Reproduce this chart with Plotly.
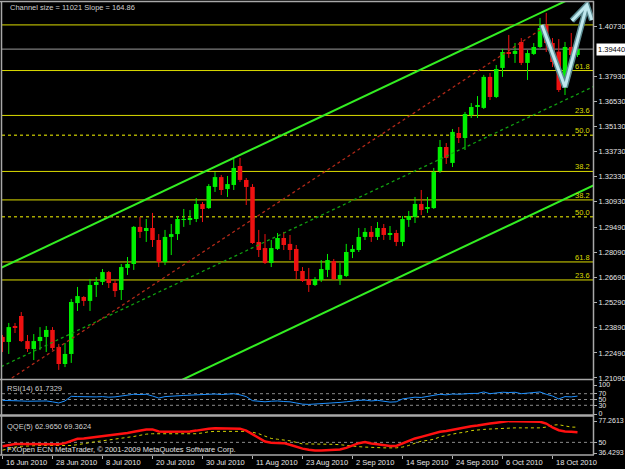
import plotly.graph_objects as go

# ---------------- data ----------------
tick_bars = [0, 8, 16, 24, 32, 40, 48, 56, 64, 72, 80, 88]
tick_labels = ["16 Jun 2010", "28 Jun 2010", "8 Jul 2010", "20 Jul 2010", "30 Jul 2010",
               "11 Aug 2010", "23 Aug 2010", "2 Sep 2010", "14 Sep 2010", "24 Sep 2010",
               "6 Oct 2010", "18 Oct 2010"]

opens = [1.2338, 1.2310, 1.2399, 1.2455, 1.2315, 1.2271, 1.2315, 1.2338, 1.2377, 1.2282,
         1.2187, 1.2243, 1.2527, 1.2561, 1.2539, 1.2628, 1.2645, 1.2700, 1.2639, 1.2600,
         1.2723, 1.2745, 1.2952, 1.2929, 1.2946, 1.2879, 1.2756, 1.2896, 1.2912, 1.2991,
         1.2996, 1.2996, 1.3080, 1.3057, 1.3175, 1.3230, 1.3163, 1.3186, 1.3292, 1.3214,
         1.3175, 1.2868, 1.2834, 1.2751, 1.2829, 1.2890, 1.2857, 1.2829, 1.2706, 1.2661,
         1.2628, 1.2656, 1.2712, 1.2762, 1.2661, 1.2678, 1.2812, 1.2823, 1.2896, 1.2924,
         1.2896, 1.2946, 1.2907, 1.2918, 1.2868, 1.2991, 1.3007, 1.3080, 1.3057, 1.3057,
         1.3264, 1.3398, 1.3309, 1.3476, 1.3448, 1.3576, 1.3621, 1.3616, 1.3789, 1.3677,
         1.3839, 1.3928, 1.3917, 1.3984, 1.3867, 1.3917, 1.3956, 1.4079, 1.3978, 1.3930,
         1.3727, 1.3956, 1.3911]
highs = [1.2349, 1.2416, 1.2416, 1.2477, 1.2349, 1.2354, 1.2393, 1.2399, 1.2393, 1.2299,
         1.2304, 1.2550, 1.2617, 1.2566, 1.2661, 1.2672, 1.2717, 1.2706, 1.2656, 1.2745,
         1.2784, 1.2957, 1.3007, 1.2996, 1.3030, 1.2912, 1.2935, 1.2968, 1.3013, 1.3052,
         1.3046, 1.3113, 1.3091, 1.3191, 1.3258, 1.3242, 1.3236, 1.3331, 1.3337, 1.3225,
         1.3191, 1.2935, 1.2912, 1.2879, 1.2918, 1.2924, 1.2907, 1.2851, 1.2728, 1.2723,
         1.2672, 1.2767, 1.2801, 1.2773, 1.2751, 1.2857, 1.2851, 1.2946, 1.2946, 1.2957,
         1.2979, 1.2968, 1.2957, 1.2935, 1.3013, 1.3041, 1.3119, 1.3158, 1.3119, 1.3281,
         1.3437, 1.3420, 1.3498, 1.3509, 1.3593, 1.3643, 1.3682, 1.3800, 1.3811, 1.3855,
         1.3945, 1.4023, 1.3978, 1.4006, 1.3939, 1.3978, 1.4118, 1.4146, 1.4006, 1.4000,
         1.3984, 1.4034, 1.3950]
lows = [1.2254, 1.2243, 1.2360, 1.2310, 1.2254, 1.2209, 1.2265, 1.2254, 1.2265, 1.2154,
        1.2170, 1.2193, 1.2483, 1.2511, 1.2483, 1.2561, 1.2628, 1.2611, 1.2561, 1.2544,
        1.2684, 1.2712, 1.2890, 1.2868, 1.2840, 1.2728, 1.2739, 1.2795, 1.2879, 1.2952,
        1.2963, 1.2979, 1.2979, 1.3052, 1.3147, 1.3130, 1.3119, 1.3158, 1.3203, 1.3074,
        1.2857, 1.2784, 1.2745, 1.2728, 1.2823, 1.2823, 1.2767, 1.2661, 1.2645, 1.2589,
        1.2622, 1.2645, 1.2672, 1.2656, 1.2628, 1.2672, 1.2778, 1.2812, 1.2879, 1.2868,
        1.2879, 1.2879, 1.2879, 1.2845, 1.2845, 1.2952, 1.2974, 1.3018, 1.3030, 1.3052,
        1.3253, 1.3303, 1.3286, 1.3420, 1.3381, 1.3560, 1.3560, 1.3610, 1.3660, 1.3671,
        1.3789, 1.3895, 1.3867, 1.3855, 1.3772, 1.3911, 1.3950, 1.3928, 1.3844, 1.3705,
        1.3688, 1.3895, 1.3900]
closes = [1.2310, 1.2393, 1.2388, 1.2315, 1.2271, 1.2315, 1.2338, 1.2377, 1.2276, 1.2187,
          1.2243, 1.2533, 1.2566, 1.2539, 1.2628, 1.2645, 1.2700, 1.2639, 1.2594, 1.2728,
          1.2745, 1.2952, 1.2924, 1.2946, 1.2879, 1.2756, 1.2896, 1.2912, 1.2996, 1.2996,
          1.2999, 1.3080, 1.3052, 1.3180, 1.3230, 1.3158, 1.3191, 1.3281, 1.3214, 1.3175,
          1.2862, 1.2823, 1.2751, 1.2834, 1.2890, 1.2851, 1.2823, 1.2706, 1.2650, 1.2628,
          1.2661, 1.2717, 1.2767, 1.2661, 1.2684, 1.2812, 1.2829, 1.2896, 1.2924, 1.2896,
          1.2946, 1.2907, 1.2918, 1.2868, 1.2996, 1.3013, 1.3080, 1.3046, 1.3063, 1.3258,
          1.3398, 1.3337, 1.3482, 1.3448, 1.3582, 1.3621, 1.3627, 1.3789, 1.3677, 1.3833,
          1.3928, 1.3922, 1.3934, 1.3867, 1.3922, 1.3956, 1.4062, 1.3978, 1.3872, 1.3716,
          1.3956, 1.3911, 1.3944]

rsi = [47, 47, 46, 45, 44, 44, 45, 45, 42, 38, 45, 61,
       60, 59, 60, 59, 60, 58, 59, 62, 65,
       68, 67, 68, 62, 55, 60, 62, 64, 64, 65, 66,
       67, 69, 69, 67, 68, 70, 66, 60, 46,
       44, 42, 44, 45, 43, 42, 38, 34, 33, 34, 35, 37,
       38, 40, 42, 45, 47, 48, 45, 47, 44, 41, 42,
       52, 55, 58, 57, 60, 65, 68, 66, 69, 68, 70, 71, 71,
       76, 70, 73, 75, 74, 75, 70, 72, 73, 76, 68, 62, 52, 60, 59, 61.7329]

qqe_fast = [45, 46.5, 48, 48, 48, 48, 48, 48, 47.5, 47.5, 49, 52,
            54.5, 55, 56, 57, 58, 58.5, 59.5, 60.5, 62, 63.5, 65, 66.5,
            66.5, 64, 63.5, 63.5, 63.5, 64, 64, 65,
            66.5, 67.5, 68, 68, 68, 68, 67.5, 65, 60,
            55, 51, 49.5, 49.5, 49, 47, 44.5,
            42, 40.5, 39.5, 39.5, 40, 40.5, 41, 43, 46, 49, 50.5, 48.5, 47.5, 46.5, 45.5, 45.5,
            49, 52, 55, 57, 59, 61.5, 63.5, 64.5, 66, 68, 69.5, 70.5, 71.5,
            73, 74, 75, 76, 77.2, 76.8, 76.5, 76.5, 76.5, 76.3, 74, 69, 65.5, 64, 63.5, 62.965]

qqe_slow = [40, 42, 44, 45, 45.5, 46, 46, 46, 46, 46, 46, 46,
            47, 48.5, 50, 51, 52, 53, 54, 55, 56, 57.5, 59, 60.5,
            61, 61, 61, 61, 61, 61, 61, 61,
            62, 63.5, 64, 64, 64, 64, 64, 64, 63,
            61, 58, 55, 54, 53, 52, 50,
            48, 48, 48, 48, 47.5, 47.5, 47, 46, 45.5, 44.5, 44, 43.5, 43, 43, 43, 43,
            44, 46, 49, 51.5, 52.5, 54, 57, 59, 60.5, 62, 63, 65, 66,
            66.5, 67, 67.5, 68, 68, 68.5, 68.5, 68.5, 68.5, 68.5, 69.5, 72, 72.5, 71, 69.5, 69.3624]

price_ticks = [1.40730, 1.37930, 1.36530, 1.35130, 1.33730, 1.32330, 1.30930,
               1.29490, 1.28090, 1.26690, 1.25290, 1.23890, 1.22490, 1.21090]
bid_price = 1.39440

# channel (from indicator text), upper line value at bar 0
channel_upper_bar0 = 1.2727
channel_slope = 0.0016486
channel_size = 0.11021

# red dotted trend line anchors (bar, price)
trend_bars = [1.5, 86.0]
trend_prices = [1.2109, 1.4051]

# Fibonacci objects: (price at 0%, price at 100%), levels shown
fibA_0, fibA_100 = 1.4079, 1.1939
fibA_levels = [0.0, 23.6, 38.2, 50.0, 61.8]
fibB_0, fibB_100 = 1.1934, 1.4993
fibB_levels = [23.6, 38.2, 50.0, 61.8]

# hand-drawn arrow (bar, price)
arrow_bars = [86.3, 90.0, 93.5, None, 91.1, 93.5, 94.3]
arrow_prices = [1.4079, 1.3733, 1.4190, None, 1.4103, 1.4190, 1.4106]

rsi_levels = [70, 50, 30]
rsi_ticks = [100, 70, 50, 30, 0]
qqe_max, qqe_min = 77.2613, 36.4293
qqe_level = 50

# ---------------- layout geometry ----------------
W, H = 625, 469
def py(px):
    return 1 - px / H

x_lo, x_hi = -0.08, 94.48
main_dom = [py(379), py(2)]
rsi_dom = [py(414), py(385)]
qqe_dom = [py(453), py(421)]
xdom = [2 / W, 593 / W]
y_lo, y_hi = 1.21033, 1.42069

FONT = "Liberation Sans"
TXT = "#e6e6e6"
BULL = "#00f000"
BEAR = "#ee1111"

n = len(opens)
bars = list(range(n))

fig = go.Figure()

# wicks
for is_bull, col in [(True, BULL), (False, BEAR)]:
    wx, wy = [], []
    for i in bars:
        if (closes[i] >= opens[i]) == is_bull:
            wx += [i, i, None]
            wy += [lows[i], highs[i], None]
    fig.add_trace(go.Scatter(x=wx, y=wy, mode="lines", line=dict(color=col, width=1),
                             hoverinfo="skip", xaxis="x", yaxis="y"))

# bodies
min_body = 0.0005
bases, heights, colors = [], [], []
for o, c in zip(opens, closes):
    h = abs(c - o)
    if h < min_body:
        mid = (o + c) / 2
        bases.append(mid - min_body / 2)
        heights.append(min_body)
    else:
        bases.append(min(o, c))
        heights.append(h)
    colors.append(BULL if c >= o else BEAR)
fig.add_trace(go.Bar(x=bars, y=heights, base=bases, width=0.72,
                     marker=dict(color=colors, line=dict(width=0)),
                     hoverinfo="skip", xaxis="x", yaxis="y"))

# channel lines
cx = [x_lo - 1, x_hi + 1]
upper = [channel_upper_bar0 + channel_slope * v for v in cx]
fig.add_trace(go.Scatter(x=cx, y=upper, mode="lines", line=dict(color="#33ee22", width=2),
                         xaxis="x", yaxis="y", hoverinfo="skip"))
fig.add_trace(go.Scatter(x=cx, y=[u - channel_size for u in upper], mode="lines",
                         line=dict(color="#33ee22", width=2), xaxis="x", yaxis="y", hoverinfo="skip"))
fig.add_trace(go.Scatter(x=cx, y=[u - channel_size / 2 for u in upper], mode="lines",
                         line=dict(color="#10a010", width=1.3, dash="dot"),
                         xaxis="x", yaxis="y", hoverinfo="skip"))
# red dotted trend
fig.add_trace(go.Scatter(x=trend_bars, y=trend_prices, mode="lines",
                         line=dict(color="#b02818", width=1.3, dash="dot"),
                         xaxis="x", yaxis="y", hoverinfo="skip"))

# arrow (outline + fill)
fig.add_trace(go.Scatter(x=arrow_bars, y=arrow_prices, mode="lines",
                         line=dict(color="#5a8a90", width=6), cliponaxis=False,
                         xaxis="x", yaxis="y", hoverinfo="skip"))
fig.add_trace(go.Scatter(x=arrow_bars, y=arrow_prices, mode="lines",
                         line=dict(color="#bfe8ee", width=3), cliponaxis=False,
                         xaxis="x", yaxis="y", hoverinfo="skip"))

# RSI
fig.add_trace(go.Scatter(x=bars, y=rsi, mode="lines", line=dict(color="#1e90ff", width=1),
                         xaxis="x2", yaxis="y2", hoverinfo="skip"))
# QQE
fig.add_trace(go.Scatter(x=bars, y=qqe_slow, mode="lines",
                         line=dict(color="#d0d000", width=1, dash="dot"),
                         xaxis="x3", yaxis="y3", hoverinfo="skip"))
fig.add_trace(go.Scatter(x=bars, y=qqe_fast, mode="lines", line=dict(color="#ff1010", width=2.5),
                         xaxis="x3", yaxis="y3", hoverinfo="skip"))

shapes = []
annots = []
# bid line
shapes.append(dict(type="line", xref="x domain", x0=0, x1=1, yref="y", y0=bid_price, y1=bid_price,
                   line=dict(color="#9a9a9a", width=1), layer="below"))
# fib lines
def fib_price(p0, p100, lvl):
    return p0 + (p100 - p0) * lvl / 100.0

for p0, p100, levels in [(fibA_0, fibA_100, fibA_levels), (fibB_0, fibB_100, fibB_levels)]:
    for lvl in levels:
        pr = fib_price(p0, p100, lvl)
        dotted = abs(lvl - 50.0) < 1e-9
        shapes.append(dict(type="line", xref="x domain", x0=0, x1=1, yref="y", y0=pr, y1=pr,
                           line=dict(color="#a8a800" if dotted else "#dcdc00", width=1.4 if dotted else 1,
                                     dash="dot" if dotted else "solid"), layer="below"))
        if lvl > 0:
            annots.append(dict(xref="x domain", x=0.998, y=pr, yref="y", xanchor="right", yanchor="bottom",
                               text=f"{lvl:.1f}", showarrow=False, yshift=-2,
                               font=dict(family=FONT, size=7.5, color="#dcdc00")))

# RSI and QQE levels
for lv in rsi_levels:
    shapes.append(dict(type="line", xref="x2 domain", x0=0, x1=1, yref="y2", y0=lv, y1=lv,
                       line=dict(color="#8a8a8a", width=1, dash="dot"), layer="below"))
shapes.append(dict(type="line", xref="x3 domain", x0=0, x1=1, yref="y3", y0=qqe_level, y1=qqe_level,
                   line=dict(color="#8a8a8a", width=1, dash="dot"), layer="below"))

# pane frames
FR = "#a8a8a8"
for ypx, w in [(1.5, 1.5), (379.5, 1.5), (415.5, 2.5), (455, 1.5)]:
    shapes.append(dict(type="line", xref="paper", yref="paper", x0=0, x1=594 / W, y0=py(ypx), y1=py(ypx),
                       line=dict(color=FR, width=w)))
for xpx in [1.5, 593.5]:
    shapes.append(dict(type="line", xref="paper", yref="paper", x0=xpx / W, x1=xpx / W, y0=py(455), y1=py(1),
                       line=dict(color=FR, width=1.5)))

# date labels, right of each date tick (MetaTrader style)
for b, t in zip(tick_bars, tick_labels):
    annots.append(dict(xref="x3", yref="paper", x=b, y=py(462.5), xanchor="left", yanchor="middle",
                       xshift=1, text=t, showarrow=False, font=dict(family=FONT, size=7.5, color=TXT)))

# texts
annots.append(dict(xref="paper", yref="paper", x=8 / W, y=py(7), xanchor="left", yanchor="middle",
                   text="Channel size = 11021 Slope = 164.86", showarrow=False,
                   font=dict(family=FONT, size=7.5, color="#d0d0d0")))
annots.append(dict(xref="paper", yref="paper", x=5 / W, y=py(388), xanchor="left", yanchor="middle",
                   text="RSI(14) 61.7329", showarrow=False, font=dict(family=FONT, size=7.5, color="#d0d0d0")))
annots.append(dict(xref="paper", yref="paper", x=5 / W, y=py(426.5), xanchor="left", yanchor="middle",
                   text="QQE(5) 62.9650 69.3624", showarrow=False, font=dict(family=FONT, size=7.5, color="#d0d0d0")))
annots.append(dict(xref="paper", yref="paper", x=5 / W, y=py(449.5), xanchor="left", yanchor="middle",
                   text="FXOpen ECN MetaTrader, © 2001-2009 MetaQuotes Software Corp.", showarrow=False,
                   font=dict(family=FONT, size=7.5, color="#e0e0e0")))
# bid label
annots.append(dict(xref="paper", yref="y", x=596 / W, y=bid_price, xanchor="left", yanchor="middle",
                   text="1.39440", showarrow=False, bgcolor="#ffffff", borderpad=1,
                   font=dict(family=FONT, size=7.5, color="#000000")))

axis_common = dict(showgrid=False, zeroline=False, showline=False, automargin=False)
tickf = dict(family=FONT, size=7.5, color=TXT)
tickf_small = dict(family=FONT, size=7, color=TXT)

fig.update_layout(
    width=W, height=H, margin=dict(l=0, r=0, t=0, b=0, autoexpand=False),
    paper_bgcolor="#000000", plot_bgcolor="#000000",
    showlegend=False, barmode="overlay",
    xaxis=dict(domain=xdom, range=[x_lo, x_hi], anchor="y", showticklabels=False, ticks="", **axis_common),
    xaxis2=dict(domain=xdom, range=[x_lo, x_hi], anchor="y2", showticklabels=False, ticks="", **axis_common),
    xaxis3=dict(domain=xdom, range=[x_lo, x_hi], anchor="free", position=py(455), tickmode="array",
                tickvals=tick_bars, showticklabels=False, ticks="outside", ticklen=3, tickcolor="#b0b0b0",
                **axis_common),
    yaxis=dict(domain=main_dom, range=[y_lo, y_hi], anchor="x", side="right", tickmode="array",
               tickvals=price_ticks, ticktext=[f"{v:.5f}" for v in price_ticks], ticks="outside",
               ticklen=3, tickcolor="#b0b0b0", tickfont=tickf, **axis_common),
    yaxis2=dict(domain=rsi_dom, range=[0, 100], anchor="x2", side="right", tickmode="array",
                tickvals=rsi_ticks, ticktext=[str(v) for v in rsi_ticks], ticks="outside",
                ticklen=3, tickcolor="#b0b0b0", tickfont=tickf_small, **axis_common),
    yaxis3=dict(domain=qqe_dom, range=[qqe_min, qqe_max], anchor="x3", side="right", tickmode="array",
                tickvals=[qqe_max, qqe_level, qqe_min], ticktext=["77.2613", "50", "36.4293"], ticks="outside",
                ticklen=3, tickcolor="#b0b0b0", tickfont=tickf_small, **axis_common),
    shapes=shapes, annotations=annots,
)

fig.write_html("out.html")
